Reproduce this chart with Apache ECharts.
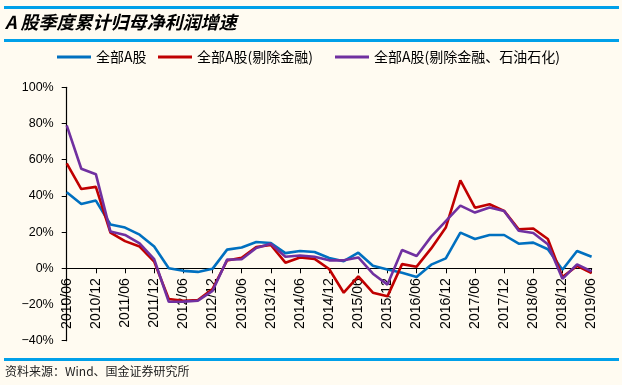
<!DOCTYPE html>
<html>
<head>
<meta charset="utf-8">
<script src="https://cdn.jsdelivr.net/npm/echarts@6/dist/echarts.min.js"></script>
<style>
html,body{margin:0;padding:0;background:#FFFBF1;}
#c{width:622px;height:385px;}
</style>
</head>
<body>
<div id="c"></div>
<script>
const categories = ['2010/06','2010/09','2010/12','2011/03','2011/06','2011/09','2011/12','2012/03','2012/06','2012/09','2012/12','2013/03','2013/06','2013/09','2013/12','2014/03','2014/06','2014/09','2014/12','2015/03','2015/06','2015/09','2015/12','2016/03','2016/06','2016/09','2016/12','2017/03','2017/06','2017/09','2017/12','2018/03','2018/06','2018/09','2018/12','2019/03','2019/06'];
const allA = [42, 35.5, 37.4, 24.2, 22.5, 18.6, 12, 0, -1.4, -2, -0.3, 10.3, 11.5, 14.5, 14, 8.4, 9.6, 9, 5.7, 3.9, 8.6, 1.4, -0.7, -2.5, -4.8, 2, 5.5, 19.7, 16.2, 18.4, 18.4, 13.6, 14.2, 10.5, -0.8, 9.6, 6.4];
const exFin = [58, 43.8, 45, 19.7, 15, 12, 3.7, -17, -18, -17.5, -11.5, 4.3, 5.8, 11.8, 12.9, 3.1, 6, 5.2, -0.4, -13.5, -4.5, -13.5, -15.5, 2.3, 0.9, 11, 22.5, 48.6, 33.5, 35.4, 31.7, 21.6, 22, 16.2, -4.8, 1.3, -2.6];
const exFinOil = [79, 55, 52, 20.3, 18.4, 13.8, 5, -18.5, -18.4, -17.9, -12.5, 4.8, 5, 11.2, 13.5, 6.4, 7.1, 6.4, 4.4, 4.4, 6, -3, -9, 10.1, 6.8, 17.5, 26.1, 34.6, 30.8, 33.6, 31.7, 20.7, 19.5, 13.3, -5.8, 2.2, -1.7];
const yTicks = {min: -40, max: 100, interval: 20};
const seriesNames = ['全部A股', '全部A股(剔除金融)', '全部A股(剔除金融、石油石化)'];
const colors = ['#0070C0', '#C00000', '#7030A0'];

const gridTop = 87.3, gridBottom = 44.3, H = 385;
const plotH = H - gridTop - gridBottom;
const zeroOffset = plotH * (0 - yTicks.min) / (yTicks.max - yTicks.min);

const chart = echarts.init(document.getElementById('c'));
const mk = (name, data, color) => ({
  name, type: 'line', data, symbol: 'none', smooth: false,
  lineStyle: {width: 2.6, color}, itemStyle: {color}
});
const legendStyle = {
  top: 50, itemWidth: 34, itemHeight: 3, icon: 'rect', itemGap: 5, padding: 0,
  textStyle: {fontFamily: 'Noto Sans CJK SC', fontSize: 14, color: '#000'}
};
chart.setOption({
  backgroundColor: '#FFFBF1',
  animation: false,
  graphic: [
    {type: 'rect', shape: {x: 4, y: 6, width: 615, height: 3}, style: {fill: '#00A0E9'}},
    {type: 'rect', shape: {x: 4, y: 39, width: 615, height: 3}, style: {fill: '#00A0E9'}},
    {type: 'rect', shape: {x: 4, y: 358, width: 615, height: 3}, style: {fill: '#00A0E9'}},
    {type: 'text', left: 5, top: 13, style: {text: 'A 股季度累计归母净利润增速', font: 'italic bold 18px "Noto Sans CJK SC"', fill: '#000'}},
    {type: 'text', left: 5, top: 365, style: {text: '资料来源：Wind、国金证券研究所', font: '12px "Noto Sans CJK SC"', fill: '#222'}}
  ],
  legend: [
    Object.assign({left: 57, data: [seriesNames[0]]}, legendStyle),
    Object.assign({left: 158, data: [seriesNames[1]]}, legendStyle),
    Object.assign({left: 335, data: [seriesNames[2]]}, legendStyle)
  ],
  grid: {left: 66.7, right: 30.4, top: gridTop, bottom: gridBottom, containLabel: false, outerBoundsMode: 'none'},
  xAxis: {
    type: 'category', data: categories, boundaryGap: false,
    offset: -zeroOffset,
    axisLine: {onZero: false, lineStyle: {color: '#000', width: 1.2}},
    axisTick: {interval: 1, length: 5, lineStyle: {color: '#000'}},
    axisLabel: {interval: 1, rotate: 90, margin: 10, fontFamily: 'Liberation Sans', fontSize: 14, color: '#000'},
    splitLine: {show: false}
  },
  yAxis: {
    type: 'value', min: yTicks.min, max: yTicks.max, interval: yTicks.interval,
    axisLine: {show: true, lineStyle: {color: '#000', width: 1.2}},
    axisTick: {show: true, length: 5, lineStyle: {color: '#000'}},
    axisLabel: {margin: 13, fontFamily: 'Liberation Sans', fontSize: 12.5, color: '#000',
      formatter: v => (v < 0 ? '\u2212' : '') + Math.abs(v) + '%'},
    splitLine: {show: false}
  },
  series: [
    mk(seriesNames[0], allA, colors[0]),
    mk(seriesNames[1], exFin, colors[1]),
    mk(seriesNames[2], exFinOil, colors[2])
  ]
});
</script>
</body>
</html>
